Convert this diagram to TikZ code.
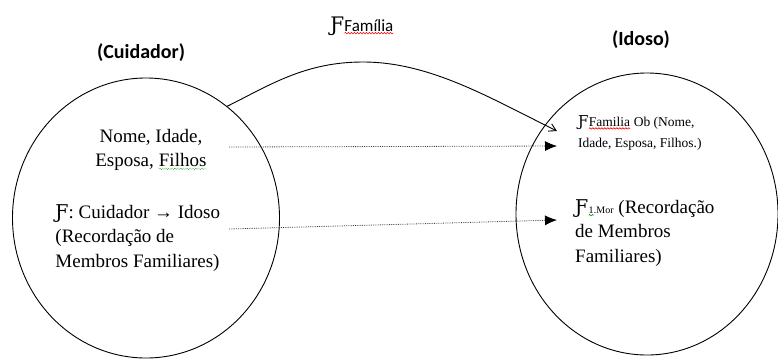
\documentclass[tikz,border=0pt]{standalone}
\usepackage{fontspec}
\setmainfont{Liberation Serif}
\newfontfamily\titlefont{Carlito}
\newfontfamily\symfont{DejaVu Serif}
\usetikzlibrary{arrows.meta,decorations.pathmorphing,shapes.geometric,positioning}
\newcommand\hookF{{\symfont Ƒ}}
% spell-check squiggle under a word
\newcommand\squig[2]{\tikz[baseline=(sq.base)]{\node[inner sep=0pt,outer sep=0pt] (sq) {#2};
  \draw[#1,line width=.6pt,decorate,decoration={snake,amplitude=.7pt,segment length=3pt}] ([yshift=-1.8pt]sq.south west) -- ([yshift=-1.8pt]sq.south east);}}

\begin{document}
\begin{tikzpicture}[x=1pt,y=-1pt,line width=.9pt,
  ring/.style={draw,ellipse,inner sep=0pt,minimum width=267pt,minimum height=280pt},
  txt/.style={font=\fontsize{19}{24.5}\selectfont,inner sep=0pt},
  small/.style={font=\fontsize{13.5}{21}\selectfont,inner sep=0pt},
  hdr/.style={font=\titlefont\bfseries\fontsize{20}{24}\selectfont},
  dots/.style={black!75,line width=.8pt,densely dotted,-{Latex[length=12pt,width=10pt,black]}}]
  \useasboundingbox (0,0) rectangle (778,360);
  \node[ring] (cuid) at (146,218) {};
  \node[ring,minimum width=262pt,minimum height=282pt] (idoso) at (647,214) {};
  \node[hdr] (tcuid) at (141,53) {(Cuidador)};
  \node[hdr] (tidoso) at (641,40) {(Idoso)};
  \node (tfam) at (362,26) {\fontsize{20}{20}\selectfont\hookF\titlefont\fontsize{17}{17}\selectfont\squig{red}{Família}};
  % left circle
  \node[txt,align=center] (dados) at (151,150) {Nome, Idade,\\Esposa, \squig{green!60!black,densely dotted}{Filhos}};
  \node[txt,align=left,anchor=west] (rel) at (55,238) {\hookF: Cuidador \textrightarrow{} Idoso\\(Recordação de\\Membros Familiares)};
  % right circle
  \node[small,align=left,anchor=west] (fob) at (578,133) {{\fontsize{15}{15}\selectfont\hookF}\squig{red}{Familia} Ob (Nome,\\Idade, Esposa, Filhos.)};
  \node[txt,align=left,anchor=west] (fmor) at (575,233) {\hookF{\fontsize{10}{10}\selectfont\squig{green!60!black}{1}.Mor} (Recordação\\de Membros\\Familiares)};
  % connectors
  \coordinate (peak) at (363,62);
  \coordinate (s1) at (229,147); \coordinate (t1) at (557,146);
  \coordinate (s2) at (229,229); \coordinate (t2) at (557,220);
  \coordinate (famtip) at (557,131);
  \draw[-{Straight Barb[length=7pt,width=8pt]}] (cuid.54) .. controls (270,85) and (305,62) .. (peak) .. controls (430,62) and (490,98) .. (famtip);
  \draw[dots] (s1) -- (t1);
  \draw[dots] (s2) -- (t2);
\end{tikzpicture}
\end{document}
